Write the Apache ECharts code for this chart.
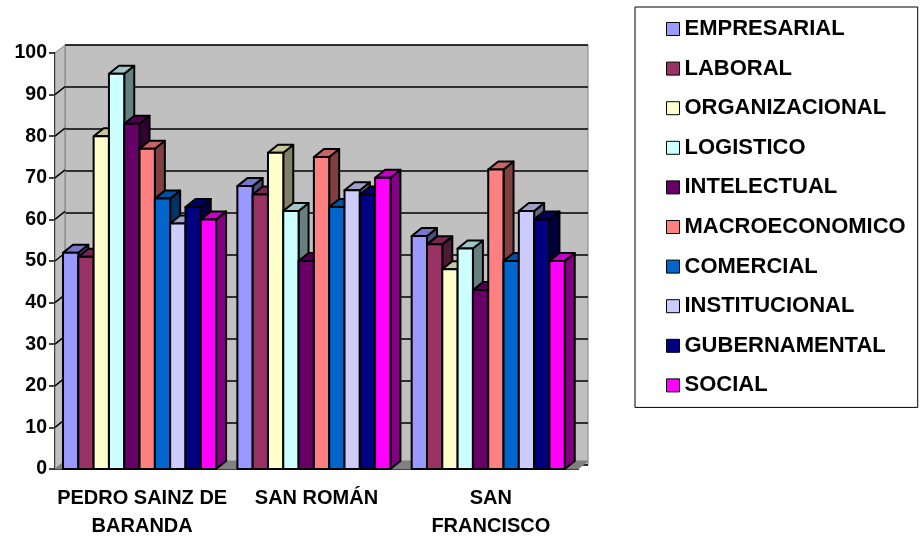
<!DOCTYPE html>
<html>
<head>
<meta charset="utf-8">
<script src="https://cdn.jsdelivr.net/npm/echarts@6/dist/echarts.min.js"></script>
<style>
html, body { margin: 0; padding: 0; background: #fff; }
#grafica { width: 921px; height: 540px; }
</style>
</head>
<body>
<div id="grafica"></div>
<script>
var categorias = ['PEDRO SAINZ DE\nBARANDA', 'SAN ROMÁN', 'SAN\nFRANCISCO'];
var nombres = ['EMPRESARIAL', 'LABORAL', 'ORGANIZACIONAL', 'LOGISTICO', 'INTELECTUAL',
               'MACROECONOMICO', 'COMERCIAL', 'INSTITUCIONAL', 'GUBERNAMENTAL', 'SOCIAL'];
var colores = ['#9999ff', '#993366', '#ffffcc', '#ccffff', '#660066',
               '#ff8080', '#0066cc', '#ccccff', '#000080', '#ff00ff'];

var empresarial    = [52, 68, 56];
var laboral        = [51, 66, 54];
var organizacional = [80, 76, 48];
var logistico      = [95, 62, 53];
var intelectual    = [83, 50, 43];
var macroeconomico = [77, 75, 72];
var comercial      = [65, 63, 50];
var institucional  = [59, 67, 62];
var gubernamental  = [63, 66, 60];
var social         = [60, 70, 50];
var valores = [empresarial, laboral, organizacional, logistico, intelectual,
               macroeconomico, comercial, institucional, gubernamental, social];
var marcas = [0, 10, 20, 30, 40, 50, 60, 70, 80, 90, 100];

var fuente = '"Liberation Sans", Arial, sans-serif';
var dx = 10, dy = -8;   // profundidad 3D

function sombra(hex, f) {
    var n = parseInt(hex.slice(1), 16);
    var r = Math.round(((n >> 16) & 255) * f);
    var g = Math.round(((n >> 8) & 255) * f);
    var b = Math.round((n & 255) * f);
    return 'rgb(' + r + ',' + g + ',' + b + ')';
}

var myChart = echarts.init(document.getElementById('grafica'));

// paredes, piso y lineas inclinadas
var decoracion = {
    type: 'custom',
    name: 'paredes',
    xAxisIndex: 1,
    yAxisIndex: 1,
    silent: true,
    z: 1,
    data: marcas.map(function (m) { return [0, m]; }),
    renderItem: function (params, api) {
        var cs = params.coordSys;
        var p = api.coord([0, api.value(1)]);
        var x0 = cs.x, yb = cs.y + cs.height, yt = cs.y, x1 = cs.x + cs.width;
        var hijos = [];
        if (params.dataIndex === 0) {
            hijos.push({
                type: 'polygon',
                shape: { points: [[x0, yb], [x0, yt], [x0 + dx, yt + dy], [x0 + dx, yb + dy]] },
                style: { fill: '#c0c0c0', stroke: '#808080', lineWidth: 1 }
            });
            hijos.push({
                type: 'polygon',
                shape: { points: [[x0, yb], [x1, yb], [x1 + dx, yb + dy], [x0 + dx, yb + dy]] },
                style: { fill: '#808080', stroke: '#808080', lineWidth: 1 }
            });
        }
        if (api.value(1) > 0 && api.value(1) < 100) {
            hijos.push({
                type: 'line',
                shape: { x1: x0, y1: p[1], x2: x0 + dx, y2: p[1] + dy },
                style: { stroke: '#000', lineWidth: 1.5 }
            });
        }
        return { type: 'group', children: hijos };
    }
};

var series = [decoracion];
nombres.forEach(function (nombre, j) {
    series.push({
        type: 'custom',
        name: nombre,
        xAxisIndex: 1,
        yAxisIndex: 1,
        z: 2,
        itemStyle: { color: colores[j] },
        data: valores[j].map(function (v, i) { return [i, v]; }),
        renderItem: function (params, api) {
            var base = api.coord([api.value(0), 0]);
            var tope = api.coord([api.value(0), api.value(1)]);
            var cw = api.size([1, 0])[0];
            var w = cw * 0.0878;
            var x = base[0] - cw / 2 + cw * 0.046 + j * w;
            var yb = base[1], yt = tope[1];
            var borde = { stroke: '#000', lineWidth: 2, lineJoin: 'round' };
            return {
                type: 'group',
                children: [
                    { type: 'polygon',
                      shape: { points: [[x + w, yt], [x + w, yb], [x + w + dx, yb + dy], [x + w + dx, yt + dy]] },
                      style: Object.assign({ fill: sombra(colores[j], 0.5) }, borde) },
                    { type: 'polygon',
                      shape: { points: [[x, yt], [x + w, yt], [x + w + dx, yt + dy], [x + dx, yt + dy]] },
                      style: Object.assign({ fill: sombra(colores[j], 0.78) }, borde) },
                    { type: 'rect',
                      shape: { x: x, y: yt, width: w, height: yb - yt },
                      style: Object.assign({ fill: colores[j] }, borde) }
                ]
            };
        }
    });
});

myChart.setOption({
    backgroundColor: '#fff',
    animation: false,
    grid: [
        { left: 65, top: 45, width: 523, height: 420, show: true,
          backgroundColor: '#c0c0c0', borderColor: '#808080', borderWidth: 1 },
        { left: 55, top: 53, width: 523, height: 420 }
    ],
    xAxis: [
        { type: 'category', gridIndex: 0, data: categorias, show: false },
        { type: 'category', gridIndex: 1, data: categorias,
          axisLine: { lineStyle: { color: '#000', width: 2 } },
          axisTick: { length: 6, lineStyle: { color: '#000', width: 1.5 } },
          axisLabel: { color: '#000', fontFamily: fuente, fontWeight: 'bold', fontSize: 20,
                       lineHeight: 28, margin: 15, interval: 0 } }
    ],
    yAxis: [
        { type: 'value', gridIndex: 0, min: 0, max: 100, interval: 10,
          axisLine: { show: false }, axisTick: { show: false }, axisLabel: { show: false },
          splitLine: { lineStyle: { color: '#000', width: 1.5 } } },
        { type: 'value', gridIndex: 1, min: 0, max: 100, interval: 10,
          axisLine: { show: true, lineStyle: { color: '#000', width: 2 } },
          axisTick: { show: true, length: 6, lineStyle: { color: '#000', width: 1.5 } },
          splitLine: { show: false },
          axisLabel: { color: '#000', fontFamily: fuente, fontWeight: 'bold', fontSize: 19.5, margin: 8 } }
    ],
    legend: {
        orient: 'vertical',
        left: 635,
        top: 7,
        data: nombres,
        icon: 'rect',
        itemWidth: 13,
        itemHeight: 13,
        itemGap: 17.6,
        padding: [11, 12, 11, 31],
        borderColor: '#000',
        borderWidth: 1,
        selectedMode: false,
        itemStyle: { borderColor: '#000', borderWidth: 1 },
        textStyle: { color: '#000', fontFamily: fuente, fontWeight: 'bold', fontSize: 22, lineHeight: 22 }
    },
    series: series
});
</script>
</body>
</html>
